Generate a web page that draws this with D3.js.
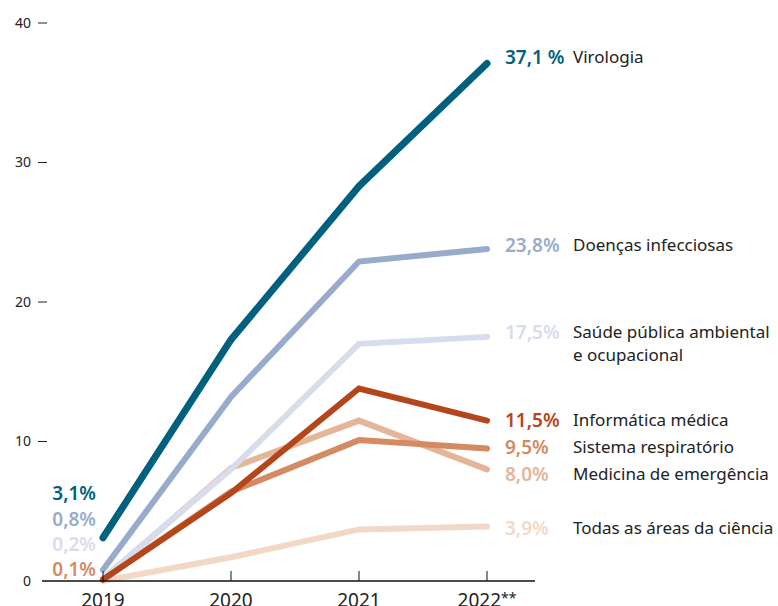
<!DOCTYPE html>
<html>
<head>
<meta charset="utf-8">
<script src="https://cdn.jsdelivr.net/npm/d3@7"></script>
<style>
  body { margin: 0; background: #fff; }
  svg { font-family: "Noto Sans", "Open Sans", sans-serif; }
</style>
</head>
<body>
<div id="chart"></div>
<script>
var width = 778, height = 606;

var years = ['2019', '2020', '2021', '2022**'];
var yTicks = [0, 10, 20, 30, 40];

// series, bottom to top drawing order
var names = ['Todas as áreas da ciência', 'Medicina de emergência', 'Sistema respiratório',
             'Saúde pública ambiental|e ocupacional', 'Informática médica', 'Doenças infecciosas', 'Virologia'];
var colors = ['#f3d8c8', '#e5b598', '#d48a63', '#d8dded', '#b5451b', '#98abcb', '#00607e'];
var values = [
    [0.0, 1.7, 3.7, 3.9],
    [0.1, 8.1, 11.5, 8.0],
    [0.1, 6.4, 10.1, 9.5],
    [0.2, 8.0, 17.0, 17.5],
    [0.1, 6.3, 13.8, 11.5],
    [0.8, 13.2, 22.9, 23.8],
    [3.1, 17.3, 28.3, 37.1]
];
var endLabels = ['3,9%', '8,0%', '9,5%', '17,5%', '11,5%', '23,8%', '37,1 %'];
var endLabelY = [528, 474, 447, 332, 420, 245, 57];

var startLabels = ['3,1%', '0,8%', '0,2%', '0,1%'];
var startColors = ['#00607e', '#98abcb', '#d8dded', '#d48a63'];
var startLabelY = [493, 519, 544, 569];

var x = d3.scalePoint().domain(years).range([103, 487]);
var y = d3.scaleLinear().domain([0, 40]).range([581, 23]);

var svg = d3.select('#chart').append('svg')
    .attr('width', width)
    .attr('height', height);

// y ticks
var yAxis = svg.append('g');
yAxis.selectAll('text')
    .data(yTicks)
    .enter().append('text')
    .attr('x', 31)
    .attr('y', function(d) { return y(d); })
    .attr('dy', '0.35em')
    .attr('text-anchor', 'end')
    .style('font-size', '14px')
    .style('fill', '#222')
    .text(function(d) { return d; });
yAxis.selectAll('line')
    .data(yTicks.filter(function(d) { return d > 0; }))
    .enter().append('line')
    .attr('x1', 38).attr('x2', 47)
    .attr('y1', function(d) { return y(d); })
    .attr('y2', function(d) { return y(d); })
    .style('stroke', '#222')
    .style('stroke-width', 1);

var line = d3.line()
    .x(function(d, i) { return x(years[i]); })
    .y(function(d) { return y(d); });

svg.selectAll('path.series')
    .data(values)
    .enter().append('path')
    .attr('class', 'series')
    .attr('d', line)
    .style('fill', 'none')
    .style('stroke', function(d, i) { return colors[i]; })
    .style('stroke-width', function(d, i) { return i == 6 ? 7 : 6; })
    .style('stroke-linecap', 'round')
    .style('stroke-linejoin', 'miter');

// x axis
svg.append('line')
    .attr('x1', 42).attr('x2', 535)
    .attr('y1', y(0)).attr('y2', y(0))
    .style('stroke', '#111')
    .style('stroke-width', 1.5);
svg.selectAll('line.xtick')
    .data(years)
    .enter().append('line')
    .attr('class', 'xtick')
    .attr('x1', function(d) { return x(d); })
    .attr('x2', function(d) { return x(d); })
    .attr('y1', y(0) - 10).attr('y2', y(0))
    .style('stroke', '#111')
    .style('stroke-width', 1);
svg.selectAll('text.xlab')
    .data(years)
    .enter().append('text')
    .attr('class', 'xlab')
    .attr('x', function(d) { return x(d); })
    .attr('y', 607)
    .attr('text-anchor', 'middle')
    .style('font-size', '19px')
    .style('fill', '#222')
    .text(function(d) { return d.replace('**', ''); })
    .append('tspan')
    .style('font-size', '14px')
    .attr('dy', '-0.3em')
    .text(function(d) { return d.indexOf('**') > -1 ? '**' : ''; });

// end labels
var ends = svg.selectAll('g.end')
    .data(names)
    .enter().append('g')
    .attr('class', 'end');
ends.append('text')
    .attr('x', 505)
    .attr('y', function(d, i) { return endLabelY[i]; })
    .attr('dy', '0.35em')
    .style('font-size', '19px')
    .style('font-weight', 600)
    .style('fill', function(d, i) { return colors[i]; })
    .text(function(d, i) { return endLabels[i]; });
ends.append('text')
    .attr('x', 573)
    .attr('y', function(d, i) { return endLabelY[i]; })
    .style('font-size', '17px')
    .style('fill', '#222')
    .each(function(d) {
        var t = d3.select(this);
        d.split('|').forEach(function(part, k) {
            t.append('tspan')
                .attr('x', 573)
                .attr('dy', k == 0 ? '0.35em' : '1.35em')
                .text(part);
        });
    });

// start labels
svg.selectAll('text.start')
    .data(startLabels)
    .enter().append('text')
    .attr('class', 'start')
    .attr('x', 96)
    .attr('y', function(d, i) { return startLabelY[i]; })
    .attr('dy', '0.35em')
    .attr('text-anchor', 'end')
    .style('font-size', '19px')
    .style('font-weight', 600)
    .style('fill', function(d, i) { return startColors[i]; })
    .text(function(d) { return d; });
</script>
</body>
</html>
